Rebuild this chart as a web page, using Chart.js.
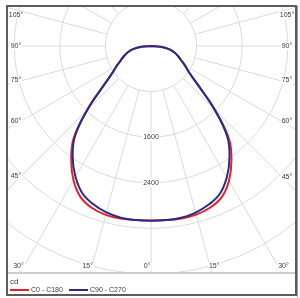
<!DOCTYPE html>
<html>
<head>
<meta charset="utf-8">
<script src="https://cdn.jsdelivr.net/npm/chart.js@4/dist/chart.umd.min.js"></script>
<style>
  html, body { margin: 0; padding: 0; background: #fff; }
</style>
</head>
<body>
<canvas id="ldc" width="300" height="298"></canvas>
<script>
// gamma angles (deg from nadir) and intensities in cd
const gamma = [0, 5, 10, 15, 20, 25, 30, 35, 40, 45, 50, 55, 60, 65, 70, 75, 80, 85, 90];
const c0   = [3060, 3066, 3072, 3062, 3020, 2930, 2735, 2460, 2130, 1595, 1100, 825, 690, 580, 500, 420, 320, 170, 0];
const c180 = [3060, 3066, 3075, 3068, 3025, 2925, 2720, 2440, 2110, 1580, 1095, 830, 690, 580, 500, 420, 320, 170, 0];
const c90  = [3065, 3066, 3060, 3025, 2960, 2860, 2660, 2400, 2085, 1570, 1090, 820, 690, 580, 500, 420, 320, 170, 0];
const c270 = [3065, 3066, 3058, 3022, 2955, 2850, 2650, 2395, 2080, 1570, 1095, 830, 695, 580, 500, 420, 320, 170, 0];

const rings = [800, 1600, 2400, 3200, 4000];
const ringLabels = [1600, 2400];
const angleTicks = [0, 15, 30, 45, 60, 75, 90, 105];
const unit = "cd";
const seriesNames = ["C0 - C180", "C90 - C270"];

const colours = ["rgb(232, 32, 38)", "rgb(38, 44, 138)"];
const gridColour = "#dadada";
const textColour = "#3a3a3a";
const font = "7px 'Liberation Sans', Arial, sans-serif";

// plot geometry: centre of the diagram and px per cd
const pxPerCd = 45.6 / 800;
const area = { left: 8, right: 295, top: 7, bottom: 272 };
const centre = { x: 151, y: 46 };

const rad = d => d * Math.PI / 180;

function plane(left, right) {
  const pts = [];
  for (let i = gamma.length - 1; i >= 0; i--) {
    pts.push({ x: -left[i] * Math.sin(rad(gamma[i])), y: -left[i] * Math.cos(rad(gamma[i])) });
  }
  for (let i = 1; i < gamma.length; i++) {
    pts.push({ x: right[i] * Math.sin(rad(gamma[i])), y: -right[i] * Math.cos(rad(gamma[i])) });
  }
  return pts;
}

function labelBox(ctx, text, x, y) {
  const w = ctx.measureText(text).width;
  ctx.fillStyle = "#fff";
  ctx.fillRect(x - w / 2 - 1, y - 4, w + 2, 8);
  ctx.fillStyle = textColour;
  ctx.fillText(text, x, y);
}

const polarGrid = {
  id: "polarGrid",
  beforeDatasetsDraw(chart) {
    const { ctx, chartArea: a, scales: { x, y } } = chart;
    const cx = x.getPixelForValue(0), cy = y.getPixelForValue(0);
    const r = v => x.getPixelForValue(v) - cx;
    ctx.save();
    ctx.beginPath();
    ctx.rect(a.left, a.top, a.right - a.left, a.bottom - a.top);
    ctx.clip();
    ctx.strokeStyle = gridColour;
    ctx.lineWidth = 1;
    rings.forEach(v => {
      ctx.beginPath();
      ctx.arc(cx, cy, r(v), 0, 2 * Math.PI);
      ctx.stroke();
    });
    const r0 = r(rings[0]), r1 = r(8000);
    for (let g = -180; g < 180; g += 15) {
      const s = Math.sin(rad(g)), c = Math.cos(rad(g));
      ctx.beginPath();
      ctx.moveTo(cx + s * r0, cy + c * r0);
      ctx.lineTo(cx + s * r1, cy + c * r1);
      ctx.stroke();
    }
    ctx.font = font;
    ctx.textAlign = "center";
    ctx.textBaseline = "middle";
    ringLabels.forEach(v => labelBox(ctx, String(v), cx, cy + r(v)));

    // angle labels along the frame
    const L = a.left + 8, R = a.right - 8, T = a.top + 8, B = a.bottom - 5.5;
    angleTicks.forEach(g => {
      const ga = g < 90 ? g + 1 : g;
      [-1, 1].forEach(side => {
        if (g === 0 && side === 1) return;
        const dx = side * Math.sin(rad(ga)), dy = Math.cos(rad(ga));
        let px, py;
        const tSide = ((side < 0 ? L : R) - cx) / dx;
        const ySide = cy + dy * tSide;
        if (Math.abs(dx) > 1e-6 && ySide <= B) {
          px = side < 0 ? L : R;
          py = Math.max(T, ySide);
        } else {
          const t = (B - cy) / dy;
          px = cx + dx * t;
          py = B;
        }
        labelBox(ctx, g + "°", px, py);
      });
    });
    ctx.restore();
  },
  afterDraw(chart) {
    const { ctx } = chart;
    ctx.save();
    // frame
    ctx.fillStyle = "#5c5c5c";
    ctx.fillRect(6, 5, 291, 2);
    ctx.fillRect(6, 5, 2, 291);
    ctx.fillRect(295, 5, 2, 291);
    ctx.fillRect(6, 294, 291, 2);
    ctx.fillStyle = "#9a9a9a";
    ctx.fillRect(297, 6, 1, 291);
    ctx.fillStyle = "#cdcdcd";
    ctx.fillRect(8, 272, 287, 2);
    // legend
    ctx.font = "8px 'Liberation Sans', Arial, sans-serif";
    ctx.textBaseline = "middle";
    ctx.textAlign = "left";
    ctx.fillStyle = textColour;
    ctx.fillText(unit, 10, 282);
    ctx.font = font;
    const starts = [10, 69];
    seriesNames.forEach((name, i) => {
      ctx.strokeStyle = colours[i];
      ctx.lineWidth = 2;
      ctx.beginPath();
      ctx.moveTo(starts[i], 290);
      ctx.lineTo(starts[i] + 19, 290);
      ctx.stroke();
      ctx.fillStyle = textColour;
      ctx.fillText(name, starts[i] + 21, 290.5);
    });
    ctx.restore();
  }
};

new Chart(document.getElementById("ldc"), {
  type: "scatter",
  data: {
    datasets: [
      {
        label: seriesNames[0],
        data: plane(c180, c0),
        showLine: true,
        borderColor: colours[0],
        borderWidth: 2,
        pointRadius: 0,
        tension: 0.4,
        order: 1
      },
      {
        label: seriesNames[1],
        data: plane(c270, c90),
        showLine: true,
        borderColor: colours[1],
        borderWidth: 2,
        pointRadius: 0,
        tension: 0.4,
        order: 0
      }
    ]
  },
  options: {
    responsive: false,
    animation: false,
    devicePixelRatio: 1,
    layout: {
      padding: { left: area.left, right: 300 - area.right, top: area.top, bottom: 298 - area.bottom }
    },
    scales: {
      x: {
        type: "linear",
        display: false,
        min: (area.left - centre.x) / pxPerCd,
        max: (area.right - centre.x) / pxPerCd
      },
      y: {
        type: "linear",
        display: false,
        min: (centre.y - area.bottom) / pxPerCd,
        max: (centre.y - area.top) / pxPerCd
      }
    },
    plugins: {
      legend: { display: false },
      tooltip: { enabled: false }
    }
  },
  plugins: [polarGrid]
});
</script>
</body>
</html>
